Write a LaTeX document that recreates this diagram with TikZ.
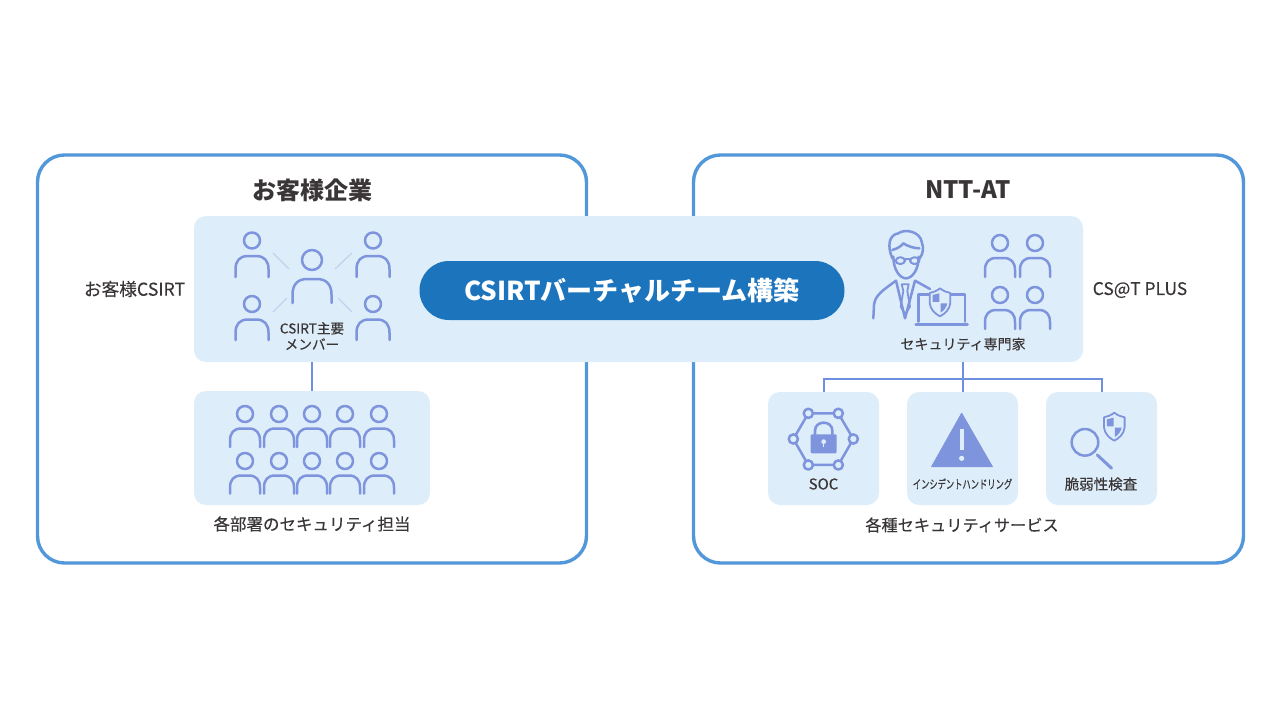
\documentclass[tikz,border=0pt]{standalone}
\usepackage{fontspec}
\usepackage{graphicx}
\setmainfont{Noto Sans CJK JP}
\newfontfamily\medfont[FakeBold=0.25]{Noto Sans CJK JP}
\definecolor{frameblue}{HTML}{5197DA}
\definecolor{panelblue}{HTML}{DDEEFA}
\definecolor{pillblue}{HTML}{1C74BD}
\definecolor{iconblue}{HTML}{7E94DC}
\definecolor{linkblue}{HTML}{C4D0EC}
\definecolor{treeblue}{HTML}{6F8FE0}
\definecolor{txt}{HTML}{3A3638}
\tikzset{
  framebox/.style={draw=frameblue,line width=3.4pt,rounded corners=27pt,fill=white,minimum height=408pt,inner sep=0pt},
  panel/.style={fill=panelblue,rounded corners=12pt,inner sep=0pt},
  pill/.style={fill=pillblue,rounded corners=29.5pt,inner sep=0pt,minimum width=425pt,minimum height=59pt,text=white,font=\fontsize{26}{30}\selectfont\bfseries},
  lbl/.style={text=txt,inner sep=0pt,align=center,font=\medfont\fontsize{16.5}{18}\selectfont},
  icon/.style={draw=iconblue,line width=2.5pt,line cap=round,line join=round},
  link/.style={draw=linkblue,line width=1.2pt},
  tree/.style={draw=treeblue,line width=2pt}
}
% \persona{x}{y}{head r}{half width}{shoulder offset}{foot offset}
\newcommand{\persona}[6]{%
  \draw[icon] (#1,#2) circle (#3);
  \draw[icon] (#1-#4,#2+#6) -- (#1-#4,#2+#5+#4*0.8)
    .. controls (#1-#4,#2+#5+#4*0.3) and (#1-#4*0.75,#2+#5) .. (#1-#4*0.25,#2+#5)
    -- (#1+#4*0.25,#2+#5)
    .. controls (#1+#4*0.75,#2+#5) and (#1+#4,#2+#5+#4*0.3) .. (#1+#4,#2+#5+#4*0.8)
    -- (#1+#4,#2+#6);
}
% \shieldicon{x}{y}  in zoom units
\newcommand{\shieldicon}[2]{%
  \draw[icon,line width=1.8pt,fill=panelblue] (#1,#2-42)
    .. controls (#1+10,#2-34) and (#1+20,#2-30) .. (#1+31,#2-28)
    -- (#1+31,#2+2) .. controls (#1+29,#2+22) and (#1+14,#2+35) .. (#1,#2+42)
    .. controls (#1-14,#2+35) and (#1-29,#2+22) .. (#1-31,#2+2)
    -- (#1-31,#2-28) .. controls (#1-20,#2-30) and (#1-10,#2-34) .. (#1,#2-42) -- cycle;
  \fill[iconblue] (#1-22,#2-22) -- (#1-2,#2-27) -- (#1-2,#2-1) -- (#1-22,#2-1) -- cycle;
  \fill[iconblue] (#1+2,#2+3) -- (#1+22,#2+3) .. controls (#1+19,#2+17) and (#1+10,#2+26) .. (#1+2,#2+31) -- cycle;
}
\begin{document}
\begin{tikzpicture}[x=1pt,y=-1pt]
\useasboundingbox[fill=white] (0,0) rectangle (1280,720);
% frames
\node[framebox,minimum width=549pt] (client) at (312,359) {};
\node[framebox,minimum width=550pt] (ntt) at (968.5,359) {};
% main band
\node[panel,minimum width=889pt,minimum height=146pt] (band) at (638.5,289) {};
\node[panel,minimum width=236pt,minimum height=114pt] (dept) at (312,448) {};
\node[panel,minimum width=111pt,minimum height=113pt] (soc) at (823.5,448.5) {};
\node[panel,minimum width=111pt,minimum height=113pt] (inc) at (962.5,448.5) {};
\node[panel,minimum width=111pt,minimum height=113pt] (vul) at (1101.5,448.5) {};
\node[pill] (team) at (632,290.5) {CSIRTバーチャルチーム構築};
% titles
\node[lbl,font=\fontsize{24}{28}\selectfont\bfseries] (t1) at (312,190) {お客様企業};
\node[lbl,font=\fontsize{24}{28}\selectfont\bfseries] (t2) at (968,190) {NTT-AT};
\node[lbl,font=\medfont\fontsize{17.7}{20}\selectfont] (l1) at (134.5,289) {お客様CSIRT};
\node[lbl,font=\medfont\fontsize{17.4}{20}\selectfont] (l2) at (1140,290) {CS@T PLUS};
\node[lbl,font=\medfont\fontsize{13.6}{16}\selectfont] (l3) at (312,336) {CSIRT主要\\メンバー};
\node[lbl,font=\medfont\fontsize{14}{16}\selectfont] (l4) at (963,344) {セキュリティ専門家};
\node[lbl,font=\medfont\fontsize{15}{16}\selectfont] (l5) at (823.5,484) {SOC};
\node[lbl] (l6) at (962.5,484) {\medfont\fontsize{12}{16}\selectfont\scalebox{0.69}[1]{インシデントハンドリング}};
\node[lbl,font=\medfont\fontsize{14.5}{16}\selectfont] (l7) at (1101,484) {脆弱性検査};
\node[lbl] (l8) at (312,524) {各部署のセキュリティ担当};
\node[lbl,font=\medfont\fontsize{16.2}{18}\selectfont] (l9) at (962,525) {各種セキュリティサービス};
% connectors
\draw[tree] (dept.north) -- (dept.north |- band.south);
\coordinate (bus) at (inc.north |- 0,379);
\draw[tree] (inc.north) -- (inc.north |- band.south);
\draw[tree] (soc.north) -- (soc.north |- bus) -- (vul.north |- bus) -- (vul.north);
% CSIRT members
\persona{252}{240.5}{8}{16.5}{15.5}{36.5}
\persona{373}{240.5}{8}{16.5}{15.5}{36.5}
\persona{252}{304}{8}{16.5}{15.5}{36}
\persona{373}{304}{8}{16.5}{15.5}{36}
\persona{312}{260}{10}{19.5}{19}{43}
\coordinate (a1) at (273,253); \coordinate (a2) at (289,269);
\coordinate (b1) at (352,253); \coordinate (b2) at (335,269);
\coordinate (c1) at (273,312); \coordinate (c2) at (287,298);
\coordinate (d1) at (352,312); \coordinate (d2) at (338,298);
\draw[link] (a1) -- (a2); \draw[link] (b1) -- (b2);
\draw[link] (c1) -- (c2); \draw[link] (d1) -- (d2);
% department staff
\foreach \px in {245,279,312,345,379}{
  \persona{\px}{414}{8}{15}{14.5}{33}
  \persona{\px}{461}{8}{15}{14.5}{32.5}
}
% NTT-AT staff
\foreach \px in {1000,1035}{
  \persona{\px}{243}{8}{15}{15}{34}
  \persona{\px}{295}{8}{15}{15}{34}
}
% expert
\begin{scope}[shift={(860,215)},x=0.3333pt,y=-0.3333pt]
  \draw[icon] (97,130) .. controls (82,95) and (85,60) .. (115,55)
     .. controls (135,40) and (180,50) .. (185,80) .. controls (192,100) and (190,115) .. (178,132);
  \draw[icon] (97,105) .. controls (115,100) and (125,92) .. (130,85) .. controls (145,95) and (165,100) .. (178,100);
  \draw[icon] (100,125) .. controls (100,165) and (120,190) .. (138,190) .. controls (156,190) and (176,165) .. (176,125);
  \draw[icon,line width=2pt,rounded corners=4pt] (107,127) rectangle (135,147);
  \draw[icon,line width=2pt,rounded corners=4pt] (150,127) rectangle (178,147);
  \draw[icon,line width=2pt] (135,133) -- (150,133);
  \draw[icon] (40,310) -- (42,270) .. controls (45,240) and (70,225) .. (108,197) -- (135,310) -- (165,197) -- (210,222);
  \draw[icon,line width=1.8pt] (125,208) -- (146,208) -- (142,228) -- (150,275) -- (136,298) -- (122,275) -- (130,228) -- cycle;
  \draw[icon] (175,320) -- (175,238) -- (315,238) -- (315,320);
  \draw[icon,line width=3.4pt] (168,328) -- (322,328);
  \shieldicon{240}{262}
\end{scope}
% SOC / incident / vulnerability icons
\begin{scope}[shift={(760,365)},x=0.3333pt,y=-0.3333pt]
  \draw[icon] (145,145) -- (235,145) -- (280,222) -- (235,300) -- (145,300) -- (100,222) -- cycle;
  \foreach \hx/\hy in {145/145,235/145,280/222,235/300,145/300,100/222}{
    \draw[icon,fill=panelblue] (\hx,\hy) circle (4.6pt);
  }
  \fill[iconblue,rounded corners=1pt] (152,208) rectangle (230,265);
  \draw[icon,line width=2.6pt] (165,208) -- (165,197) .. controls (165,165) and (217,165) .. (217,197) -- (217,208);
  \fill[panelblue] (191,230) circle (2.4pt);
  \draw[panelblue,line width=1.5pt] (191,230) -- (191,246);
  \fill[iconblue,line join=round] (605,145) -- (697,305) -- (515,305) -- cycle;
  \draw[iconblue,line join=round,line width=1pt] (605,145) -- (697,305) -- (515,305) -- cycle;
  \draw[panelblue,line width=3.8pt] (605,192) -- (605,254);
  \fill[panelblue] (605,280) circle (2.6pt);
  \draw[icon] (975,232) circle (13.3pt);
  \draw[icon,line width=3pt] (1012,270) -- (1055,310);
  \shieldicon{1063}{185}
\end{scope}
\end{tikzpicture}
\end{document}
